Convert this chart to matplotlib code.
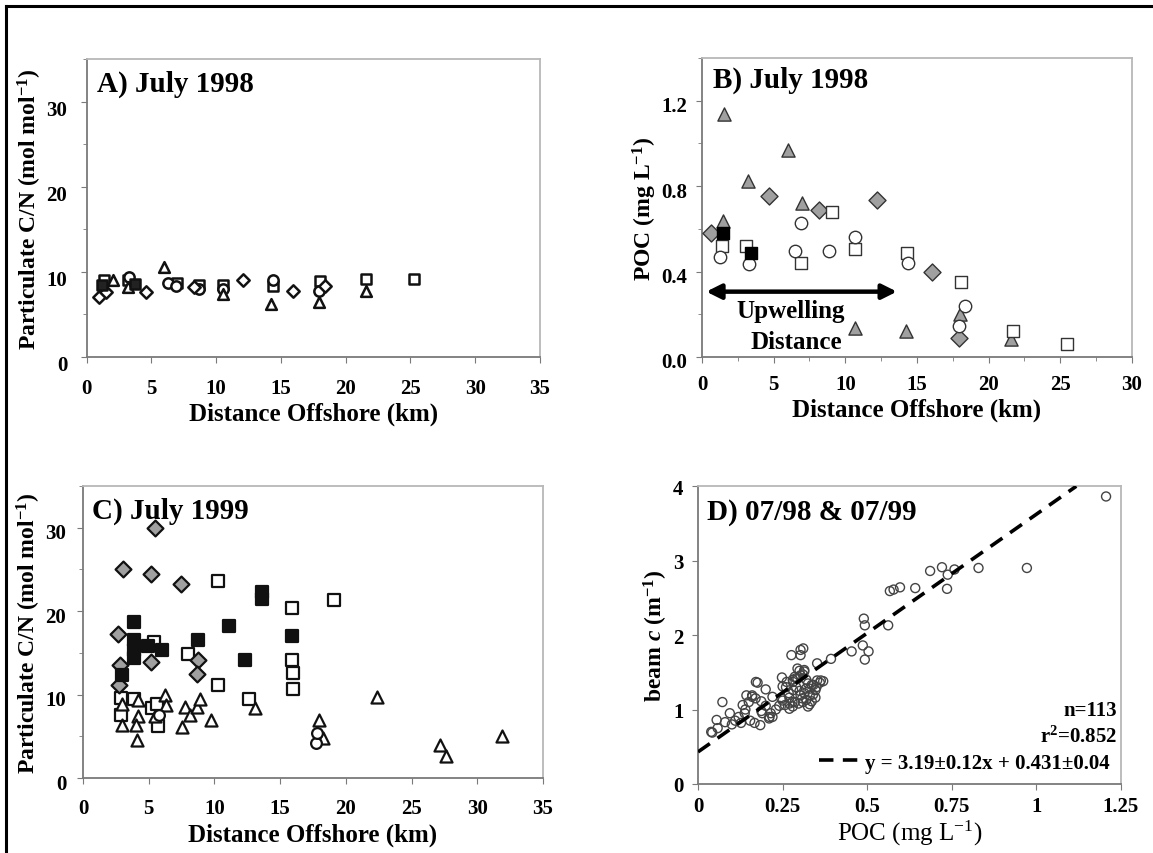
import numpy as np
import matplotlib
matplotlib.use("Agg")
import matplotlib.pyplot as plt
import matplotlib.transforms as mtransforms
from matplotlib.lines import Line2D
from matplotlib.ticker import MultipleLocator, FormatStrFormatter, FuncFormatter

plt.rcParams['font.family'] = ['Liberation Serif', 'DejaVu Serif']
plt.rcParams['font.weight'] = 'bold'
plt.rcParams['axes.labelweight'] = 'bold'
plt.rcParams['mathtext.fontset'] = 'custom'
plt.rcParams['mathtext.default'] = 'regular'
plt.rcParams['mathtext.it'] = 'Liberation Serif:italic:bold'

GRAY = '#a0a0a0'

# ---- A) July 1998, C/N vs distance
a_tri_x = [2.0, 3.2, 6.0, 10.5, 14.2, 17.9, 21.6]
a_tri_y = [9.0, 8.2, 10.6, 7.4, 6.2, 6.5, 7.8]
a_dia_x = [0.97, 1.46, 4.6, 8.3, 12.1, 15.9, 18.4]
a_dia_y = [7.1, 7.6, 7.6, 8.2, 9.0, 7.8, 8.3]
a_sq_x = [1.3, 3.2, 7.0, 8.7, 10.5, 14.4, 18.0, 21.6, 25.3]
a_sq_y = [9.0, 9.0, 8.7, 8.5, 8.5, 8.3, 8.9, 9.2, 9.2]
a_fsq_x = [1.2, 3.7]
a_fsq_y = [8.4, 8.6]
a_circ_x = [3.3, 6.3, 6.9, 8.7, 10.5, 14.4, 17.9]
a_circ_y = [9.4, 8.7, 8.3, 8.0, 8.0, 9.0, 7.8]

# ---- B) July 1998, POC vs distance
b_tri_x = [1.55, 6.03, 3.23, 6.98, 1.47, 10.68, 14.22, 17.97, 21.54]
b_tri_y = [1.14, 0.967, 0.826, 0.719, 0.636, 0.135, 0.121, 0.199, 0.082]
b_dia_x = [0.65, 4.65, 8.15, 12.23, 16.03, 17.92]
b_dia_y = [0.579, 0.753, 0.686, 0.733, 0.40, 0.09]
b_fsq_x = [1.5, 3.44]
b_fsq_y = [0.582, 0.489]
b_sq_x = [1.37, 3.1, 6.9, 9.05, 10.68, 14.3, 18.05, 21.72, 25.47]
b_sq_y = [0.52, 0.52, 0.438, 0.678, 0.505, 0.489, 0.352, 0.124, 0.062]
b_circ_x = [1.29, 3.31, 6.9, 6.47, 8.84, 10.68, 14.4, 18.36, 17.92]
b_circ_y = [0.469, 0.435, 0.629, 0.497, 0.497, 0.563, 0.442, 0.241, 0.144]

# ---- C) July 1999, C/N vs distance
c_dia_x = [5.49, 3.01, 5.18, 7.46, 2.70, 2.81, 5.18, 8.75, 8.64, 2.73]
c_dia_y = [30.0, 25.0, 24.5, 23.3, 17.3, 13.6, 13.9, 14.2, 12.5, 11.1]
c_fsq_x = [3.91, 3.91, 3.91, 3.91, 4.95, 6.02, 8.75, 11.09, 12.3, 13.62, 13.62, 15.93, 2.93]
c_fsq_y = [18.7, 16.6, 15.4, 14.4, 15.8, 15.4, 16.6, 18.2, 14.2, 22.3, 21.5, 17.0, 12.4]
c_sq_x = [10.24, 15.87, 19.13, 5.4, 7.99, 15.87, 15.95, 15.95, 10.24, 12.6,
          2.87, 3.85, 5.26, 5.66, 5.74, 2.87]
c_sq_y = [23.6, 20.4, 21.3, 16.3, 14.9, 14.1, 12.6, 10.7, 11.2, 9.5,
          9.6, 9.5, 8.4, 8.9, 6.2, 7.6]
c_tri_x = [3.0, 2.93, 4.19, 4.19, 4.05, 4.11, 5.46, 6.25, 6.3, 7.51, 7.79, 8.13,
           8.64, 8.92, 9.74, 13.06, 22.34, 17.98, 18.26, 27.18, 27.6, 31.85]
c_tri_y = [8.9, 6.3, 9.3, 7.4, 6.3, 4.6, 7.4, 10.0, 8.8, 6.1, 8.5, 7.6,
           8.5, 9.5, 7.0, 8.4, 9.7, 7.0, 4.8, 4.0, 2.6, 5.0]
c_circ_x = [17.75, 17.84, 5.82]
c_circ_y = [4.2, 5.4, 7.5]

# ---- D) beam c vs POC
d_poc = [1.206, 0.972, 0.829, 0.721, 0.686, 0.738, 0.758, 0.736, 0.642, 0.597,
         0.578, 0.567, 0.490, 0.493, 0.562, 0.454, 0.487, 0.504, 0.493, 0.393,
         0.352, 0.276, 0.303, 0.311, 0.303, 0.314, 0.294,
         0.039, 0.042, 0.055, 0.072, 0.058, 0.094, 0.080, 0.127, 0.132, 0.143,
         0.160, 0.138, 0.154, 0.171, 0.176, 0.167, 0.184, 0.200, 0.187, 0.211,
         0.215, 0.220, 0.187, 0.160,
         0.248, 0.262, 0.250, 0.246, 0.257, 0.270, 0.268, 0.279, 0.286, 0.294,
         0.303, 0.314, 0.281, 0.325, 0.286, 0.297, 0.308, 0.314, 0.325, 0.336,
         0.330, 0.341, 0.347, 0.352, 0.363, 0.347, 0.336, 0.319, 0.330, 0.303,
         0.270, 0.281,
         0.26, 0.27, 0.28, 0.29, 0.30, 0.31, 0.32, 0.33, 0.34, 0.35,
         0.36, 0.37, 0.32, 0.31, 0.30, 0.29, 0.28, 0.24, 0.25, 0.23,
         0.22, 0.21, 0.20, 0.19, 0.17, 0.15, 0.14, 0.12, 0.11, 0.10]
d_beam = [3.86, 2.90, 2.90, 2.91, 2.86, 2.81, 2.88, 2.62, 2.63, 2.64,
          2.61, 2.59, 2.22, 2.13, 2.13, 1.78, 1.86, 1.78, 1.67, 1.68,
          1.62, 1.73, 1.73, 1.82, 1.80, 1.53, 1.55,
          0.70, 0.69, 0.86, 1.10, 0.75, 0.95, 0.83, 0.82, 1.06, 1.19,
          1.19, 0.95, 0.85, 1.37, 1.36, 0.82, 0.79, 1.27, 1.11, 0.90,
          0.95, 1.17, 0.98, 1.17,
          1.43, 1.37, 1.31, 1.15, 1.06, 1.01, 1.22, 1.10, 1.44, 1.41,
          1.46, 1.51, 1.37, 1.35, 1.10, 1.08, 1.15, 1.22, 1.04, 1.11,
          1.28, 1.33, 1.26, 1.39, 1.39, 1.16, 1.33, 1.28, 1.19, 1.19,
          1.08, 1.26,
          1.30, 1.16, 1.04, 1.30, 1.25, 1.10, 1.13, 1.07, 1.20, 1.30,
          1.36, 1.38, 1.40, 1.47, 1.52, 1.42, 1.40, 1.05, 1.12, 1.00,
          0.90, 0.88, 1.05, 0.95, 1.15, 1.10, 1.00, 0.90, 0.85, 0.80]
fit_slope = 3.19
fit_icept = 0.431
fit_x = [0.0, 1.118]

fig = plt.figure(figsize=(11.53, 8.54), dpi=100)


def style(ax, xpad, ypad, ydrop):
    for side, sp in ax.spines.items():
        sp.set_color('#b8b8b8')
        sp.set_linewidth(1.3)
    ax.spines['left'].set_color('#7a7a7a')
    ax.spines['bottom'].set_color('#7a7a7a')
    ax.tick_params(which='both', direction='out', color='#7a7a7a', labelsize=15)
    ax.tick_params(which='major', length=4)
    ax.tick_params(which='minor', length=3)
    ax.tick_params(axis='x', pad=xpad)
    ax.tick_params(axis='y', pad=ypad)
    for lab in ax.get_xticklabels() + ax.get_yticklabels():
        lab.set_fontweight('bold')
    # y tick labels sit a little low in the original
    off = mtransforms.ScaledTranslation(0, -ydrop / 100.0, fig.dpi_scale_trans)
    for lab in ax.get_yticklabels():
        lab.set_transform(lab.get_transform() + off)


def panel_title(ax, txt, x, y):
    ax.text(x, y, txt, transform=ax.transAxes, fontsize=21,
            fontweight='bold', va='center', ha='left')


edge = '#111111'
kw = dict(linewidths=1.8, zorder=3)

# A
axA = fig.add_axes([0.0752, 0.5808, 0.3931, 0.3489])
axA.scatter(a_sq_x, a_sq_y, marker='s', s=55, facecolor='white', edgecolor=edge, **kw)
axA.scatter(a_circ_x, a_circ_y, marker='o', s=55, facecolor='white', edgecolor=edge, **kw)
axA.scatter(a_tri_x, a_tri_y, marker='^', s=60, facecolor='white', edgecolor=edge, **kw)
axA.scatter(a_dia_x, a_dia_y, marker='D', s=40, facecolor='white', edgecolor=edge, **kw)
axA.scatter(a_fsq_x, a_fsq_y, marker='s', s=55, facecolor='#222222', edgecolor=edge, **kw)
axA.set_xlim(0, 35)
axA.set_ylim(0, 35)
axA.xaxis.set_major_locator(MultipleLocator(5))
axA.yaxis.set_major_locator(MultipleLocator(10))
axA.yaxis.set_minor_locator(MultipleLocator(5))
style(axA, 11, 10, 6)
axA.set_xlabel('Distance Offshore (km)', fontsize=18, labelpad=3)
axA.set_ylabel('Particulate C/N (mol mol$^{-1}$)', fontsize=17, labelpad=2)
panel_title(axA, 'A) July 1998', 0.022, 0.92)

# B
axB = fig.add_axes([0.6088, 0.5808, 0.3730, 0.3501])
kwb = dict(linewidths=1.0, zorder=3)
axB.scatter(b_tri_x, b_tri_y, marker='^', s=90, facecolor=GRAY, edgecolor='#333333', **kwb)
axB.scatter(b_dia_x, b_dia_y, marker='D', s=75, facecolor=GRAY, edgecolor='#333333', **kwb)
axB.scatter(b_sq_x, b_sq_y, marker='s', s=80, facecolor='white', edgecolor='#333333', **kwb)
axB.scatter(b_circ_x, b_circ_y, marker='o', s=80, facecolor='white', edgecolor='#333333', **kwb)
axB.scatter(b_fsq_x, b_fsq_y, marker='s', s=70, facecolor='black', edgecolor='black', **kwb)
axB.set_xlim(0, 30)
axB.set_ylim(0, 1.4)
axB.xaxis.set_major_locator(MultipleLocator(5))
axB.xaxis.set_minor_locator(MultipleLocator(2.5))
axB.yaxis.set_minor_locator(MultipleLocator(0.2))
axB.set_yticks([0, 0.4, 0.8, 1.2])
axB.yaxis.set_major_formatter(FormatStrFormatter('%.1f'))
style(axB, 8, 6.5, 3)
axB.set_xlabel('Distance Offshore (km)', fontsize=18, labelpad=3)
axB.set_ylabel('POC (mg L$^{-1}$)', fontsize=17, labelpad=2)
panel_title(axB, 'B) July 1998', 0.026, 0.928)
axB.annotate('', xy=(0.3, 0.306), xytext=(13.6, 0.306),
             arrowprops=dict(arrowstyle='<|-|>', color='black', lw=3.2,
                             mutation_scale=22, shrinkA=0, shrinkB=0))
axB.text(6.2, 0.217, 'Upwelling', fontsize=18, fontweight='bold',
         ha='center', va='center')
axB.text(6.6, 0.073, 'Distance', fontsize=18, fontweight='bold',
         ha='center', va='center')

# C
axC = fig.add_axes([0.0720, 0.0878, 0.3989, 0.3419])
kwc = dict(linewidths=1.6, zorder=3)
axC.scatter(c_sq_x, c_sq_y, marker='s', s=75, facecolor='white', edgecolor=edge, **kwc)
axC.scatter(c_tri_x, c_tri_y, marker='^', s=75, facecolor='white', edgecolor=edge, **kwc)
axC.scatter(c_circ_x, c_circ_y, marker='o', s=60, facecolor='white', edgecolor=edge, **kwc)
axC.scatter(c_dia_x, c_dia_y, marker='D', s=65, facecolor=GRAY, edgecolor=edge, **kwc)
axC.scatter(c_fsq_x, c_fsq_y, marker='s', s=75, facecolor='#111111', edgecolor=edge, **kwc)
axC.set_xlim(0, 35)
axC.set_ylim(0, 35)
axC.xaxis.set_major_locator(MultipleLocator(5))
axC.yaxis.set_major_locator(MultipleLocator(10))
axC.yaxis.set_minor_locator(MultipleLocator(5))
style(axC, 10.5, 8, 3)
axC.set_xlabel('Distance Offshore (km)', fontsize=18, labelpad=3)
axC.set_ylabel('Particulate C/N (mol mol$^{-1}$)', fontsize=17, labelpad=2)
panel_title(axC, 'C) July 1999', 0.019, 0.916)

# D
axD = fig.add_axes([0.6054, 0.0808, 0.3668, 0.3489])
axD.scatter(d_poc, d_beam, marker='o', s=42, facecolor='none',
            edgecolor='#444444', linewidths=1.0, zorder=3)
fx = np.array(fit_x)
axD.plot(fx, fit_slope * fx + fit_icept, color='black', lw=2.6,
         dashes=(4, 2.6), zorder=4,
         label='y = 3.19\u00b10.12x + 0.431\u00b10.04')
axD.set_xlim(0, 1.25)
axD.set_ylim(0, 4)
axD.set_xticks([0, 0.25, 0.5, 0.75, 1, 1.25])
axD.xaxis.set_major_formatter(FuncFormatter(lambda v, p: '%g' % v))
axD.yaxis.set_major_locator(MultipleLocator(1))
style(axD, 5, 6.5, 0)
axD.set_xlabel('POC (mg L$^{-1}$)', fontsize=18, fontweight='normal', labelpad=1)
axD.set_ylabel('beam $\\mathit{c}$ (m$^{-1}$)', fontsize=17, labelpad=2)
panel_title(axD, 'D) 07/98 & 07/99', 0.022, 0.916)
axD.legend(loc='lower right', frameon=False, prop={'size': 15, 'weight': 'bold'},
           handlelength=2.0, handletextpad=0.2, borderaxespad=0.15)
axD.text(0.99, 0.248, 'n=113', transform=axD.transAxes, ha='right',
         va='center', fontsize=15, fontweight='bold')
axD.text(0.99, 0.16, 'r$^{2}$=0.852', transform=axD.transAxes, ha='right',
         va='center', fontsize=15, fontweight='bold')

# scan frame lines (top and left)
fig.add_artist(Line2D([0.0052, 1.0], [0.9918, 0.9918], transform=fig.transFigure,
                      color='black', lw=2.2))
fig.add_artist(Line2D([0.0055, 0.0055], [0.0, 0.9918], transform=fig.transFigure,
                      color='black', lw=2.2))

fig.savefig('out.png', dpi=100)
